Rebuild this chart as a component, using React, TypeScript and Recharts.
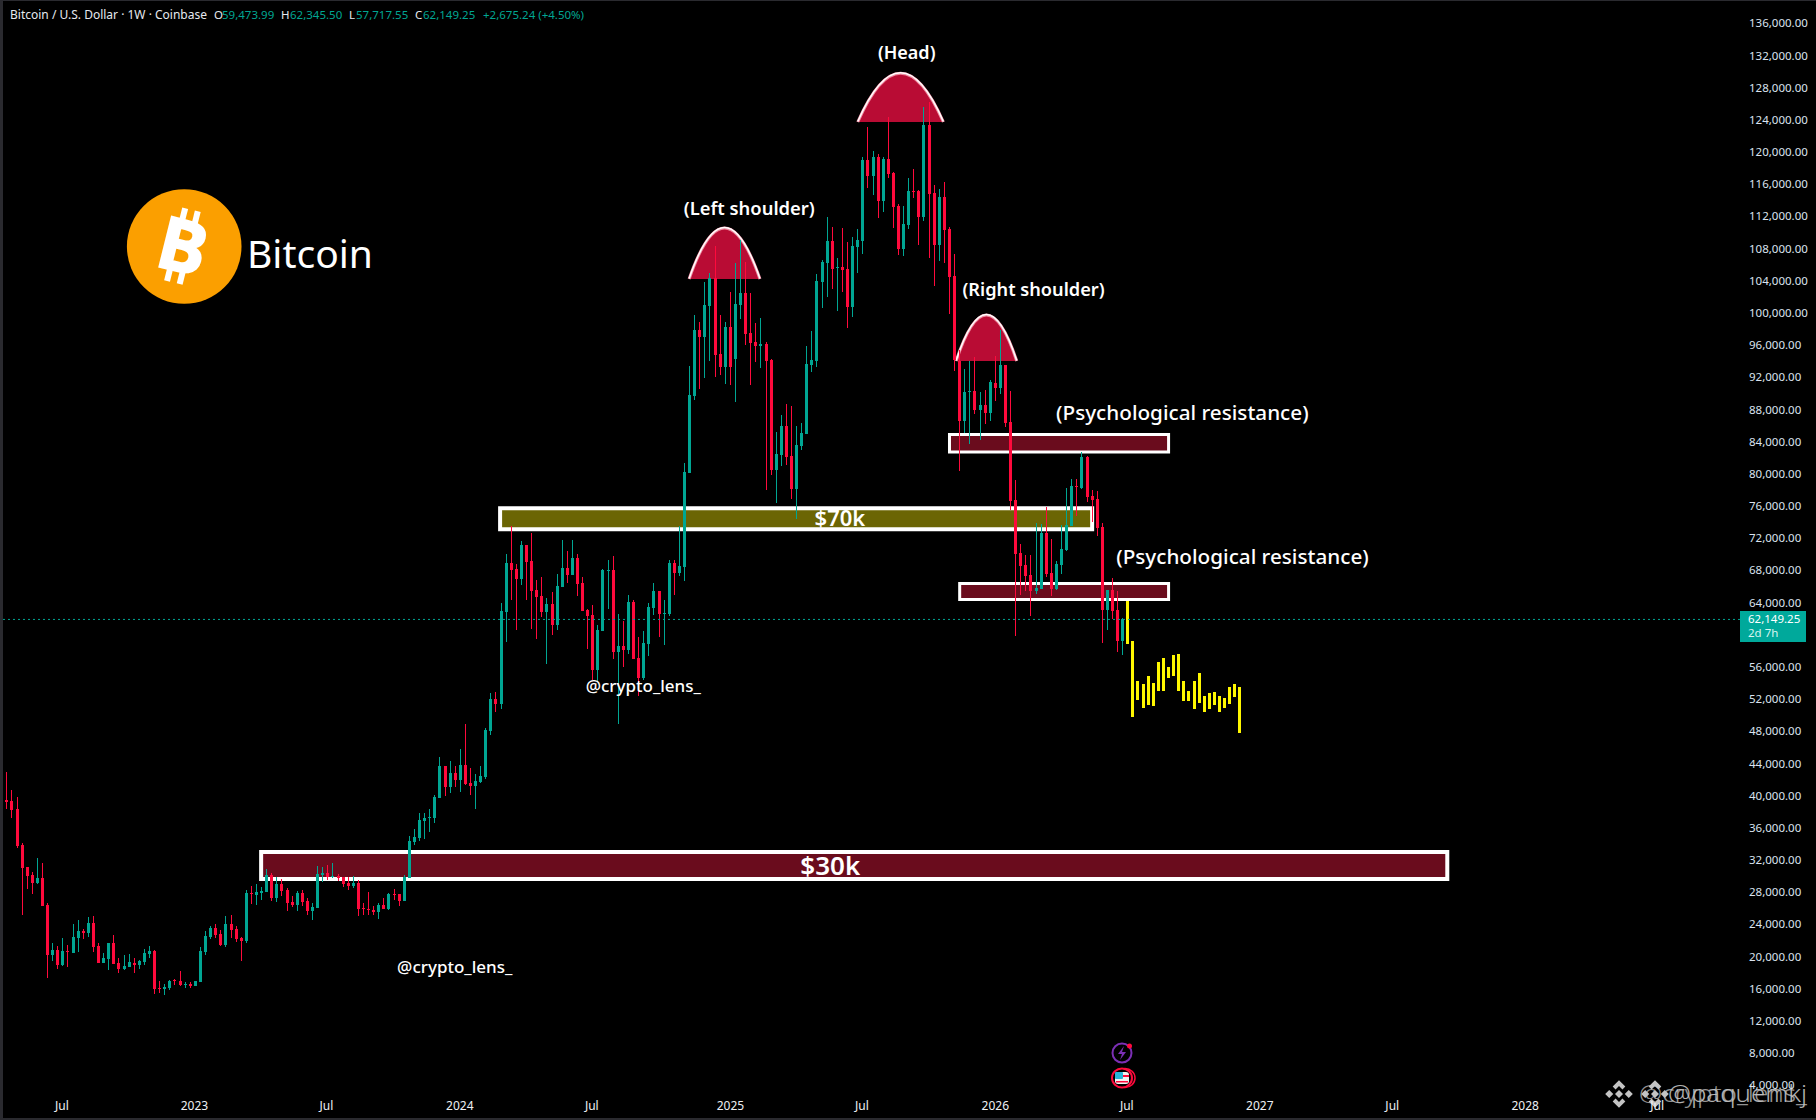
import React from 'react';
import { ComposedChart, Bar, XAxis, YAxis, ReferenceArea, ReferenceDot, ReferenceLine } from 'recharts';

// weekly BTC/USD candles, oldest first
const opens = [
  41942,39705,39581,38587,34112,31378,30384,29389,30011,26655,
  20440,21062,19198,20937,20689,22553,23423,23175,24418,21559,
  19446,19943,21932,19446,18700,18949,19446,19198,19570,20565,
  20937,16339,16214,16339,17333,17209,16712,16836,16588,17085,
  20813,22677,23796,23050,21683,24293,23672,22553,22180,28146,
  27898,28146,28270,30384,27525,29265,28519,27028,26655,28146,
  27152,25909,26282,30384,30633,30135,30260,30135,29389,29017,
  29389,26282,26158,26034,25785,26655,26158,28022,28022,27152,
  30011,34485,34983,37096,37468,37468,39954,43931,41321,43061,
  42191,44057,41820,41447,41944,42566,48283,52260,51639,63075,
  69165,68419,67176,71402,69414,65809,65063,63075,64069,61459,
  66182,68544,67673,69786,66679,63323,62702,55866,60713,68171,
  68295,58103,58849,58352,64318,57357,54872,59098,63572,65685,
  62826,62826,69165,67922,68673,80355,89925,98129,97258,101112,
  104592,95146,93531,98502,94525,101236,102728,97756,96637,96140,
  96389,94400,80728,82592,86197,82469,78366,83711,85203,93779,
  94276,104095,106456,109191,105835,105959,105710,100987,108445,109191,
  119258,117269,119631,114162,119383,117642,113541,108197,111179,115405,
  115405,112174,123609,115157,108693,114660,110683,104840,94276,86819,
  90423,90547,88186,88807,87813,91542,90920,93779,86692,76997,
  70410,68918,67675,65686,65935,72895,67924,65935,68918,70783,
  73766,78737,78488,82342,77494,77121,73641,63325,65811,63325,59474,
];
const highs = [
  42191,43186,40948,40078,34361,31378,30756,32497,31875,26904,
  21932,21559,22553,21683,24293,24791,23672,25164,25287,21932,
  20689,21932,22926,20067,20440,20565,20067,19819,21186,21559,
  21062,17209,16836,17333,17457,18452,17085,17085,17209,21434,
  23423,24045,24293,23548,25287,25412,24045,22677,28519,29016,
  29265,28892,31129,30632,30135,29887,28768,27773,28395,28520,
  27525,26904,31502,31378,31627,31875,30508,30135,30135,30260,
  29762,26904,28271,26531,26904,27525,28146,28644,28022,30384,
  35231,36101,38090,38090,38587,40327,45050,43931,44553,43931,
  46044,49153,43684,42938,43933,48656,53006,53130,64192,70283,
  73764,69041,71899,71402,72894,67052,67425,64815,65561,67798,
  72024,70656,72024,70283,67425,63448,63945,61459,68419,69538,
  70035,62826,61956,65188,64566,59967,60713,64193,66679,65685,
  64566,69538,69538,73764,81557,93654,99993,99123,104095,105172,
  108569,99993,99123,102852,106456,109315,106581,102728,99000,99621,
  96637,94525,85451,87565,88931,88683,86197,86570,96140,98005,
  105089,106829,112174,110931,107078,110806,109066,109688,110682,119631,
  123360,120377,120004,119631,124603,117767,113789,113541,117021,118140,
  115530,125846,126467,116151,115654,116524,110931,107575,95643,93282,
  94276,94773,90423,90672,91914,94897,98129,93779,90545,79483,
  71528,70161,70161,74138,74014,76127,72150,69415,73890,78488,
  79607,79607,82963,82466,78240,78116,74138,65811,67302,65686,62345,
];
const lows = [
  39581,38587,37468,33740,25412,28644,28022,29265,26531,17582,
  19695,18700,19074,18949,20689,20813,22429,22677,20813,19446,
  19446,18576,19322,18203,18576,18949,18203,18700,19198,20067,
  15593,15717,15469,16090,16712,16588,16339,16339,16588,17085,
  20440,22429,22553,21559,21434,22553,22056,19695,21932,26779,
  26655,27276,28270,27152,27028,27773,25909,26406,25909,26531,
  25412,24791,26282,29514,29762,30011,29638,28893,28520,28768,
  25288,25412,25412,25412,24915,26158,26034,27277,26531,27152,
  30011,34113,34610,34858,35728,36847,39954,40203,40576,41321,
  40700,41571,40329,38588,41820,42317,47786,50645,51017,59346,
  64566,60837,66431,64566,60962,59719,62453,56611,60216,60837,
  66182,66679,67673,65063,63199,58476,54623,54375,60713,63448,
  57233,49154,56239,57854,57233,52634,54623,57606,62702,59967,
  58973,62577,65188,67549,66932,80355,89429,90795,92164,94276,
  92287,92536,91418,91293,89180,99496,96265,91293,94152,93405,
  78243,80108,76627,81225,81350,77123,74639,83214,85203,92909,
  93531,100863,102230,103225,100491,102852,98378,99745,105213,107575,
  115778,114908,112049,112795,117021,110806,107451,107326,110682,114535,
  108693,111677,107078,103598,106705,106456,100118,93033,80604,85327,
  83960,87689,84456,86446,86819,89305,90175,86073,75754,60093,
  65190,65686,62579,65314,65935,67427,65065,65811,67800,70658,
  73766,75008,78364,76749,74263,72523,59224,60839,62207,58105,57718,
];
const closes = [
  39705,39457,38462,33947,31254,30259,29389,30011,26531,20440,
  21062,19198,20937,20813,22677,23423,23175,24418,21434,19446,
  20067,21932,19322,18700,19074,19570,19198,19695,20689,20937,
  16214,16214,16463,17209,17209,16712,16836,16588,17209,20937,
  22802,23796,22926,21683,24293,23548,22429,22180,28146,28022,
  28270,28395,30384,27525,29265,28395,26904,26655,28146,27028,
  25909,26406,30508,30633,30135,30260,30011,29265,29017,29389,
  26158,26158,26034,25785,26655,26158,28022,27898,27152,30135,
  34610,35107,37220,37468,37593,40078,43931,41321,43061,42191,
  44056,41696,41447,42068,42690,48407,52260,51639,63198,69165,
  68295,67176,71402,69289,65685,64939,63075,64069,61459,66306,
  68544,67673,69786,66555,63199,62577,55866,60837,68295,68295,
  58103,58849,58352,64318,57233,54872,59222,63696,65685,62826,
  62950,69165,67922,68792,80479,90050,98129,97258,101236,104592,
  95022,93531,98502,93531,101361,102728,97632,96513,96140,96389,
  94276,80728,82716,86197,82345,78366,83836,85327,93903,94400,
  104219,106580,109191,105710,105959,105586,100987,108569,109315,119258,
  117269,119631,114162,119383,117518,113417,108197,111304,115405,115281,
  112174,123609,115032,108693,114660,110558,104716,94400,86819,90423,
  90547,88186,88807,87813,91666,90920,93779,86570,76873,70285,
  68794,67551,65686,66059,72895,67800,65935,69042,70907,73890,
  78737,78613,82342,77370,76997,73517,63325,65811,63201,59472,62149,
];

// the yellow projected path after the last real candle
const projectionHighs = [64444,59472,54500,54127,55122,54253,56862,57358,56242,57732,57856,54500,53257,54500,55495,52636,53009,53133,52636,52387,53755,54127,53755];
const projectionLows = [59099,50026,52139,51144,51518,51393,53257,53257,54873,55122,53257,52015,52015,51020,51766,50648,51020,51518,50648,51144,51642,52512,48038];

const priceTicks = [4000,8000,12000,16000,20000,24000,28000,32000,36000,40000,44000,48000,52000,56000,64000,68000,72000,76000,80000,84000,88000,92000,96000,100000,104000,108000,112000,116000,120000,124000,128000,132000,136000];
const timeTicks = [11.8,37.8,63.7,89.9,115.8,143,168.8,195,220.8,246.9,272.9,299,324.9];
const timeLabels = ['Jul','2023','Jul','2024','Jul','2025','Jul','2026','Jul','2027','Jul','2028','Jul'];

const FONT = '"Noto Sans", sans-serif';
const UP = '#00a693';
const DOWN = '#ff0a3c';
const PROJECTED = '#fff700';
const lastPrice = 62149.25;

const rows = [
  ...opens.map((open, i) => ({ week: i, open, close: closes[i], low: lows[i], high: highs[i], range: [lows[i], highs[i]] })),
  ...projectionHighs.map((high, i) => ({ week: opens.length + i, projected: true, open: high, close: projectionLows[i], low: projectionLows[i], high, range: [projectionLows[i], high] })),
];

const Candle = (props: any) => {
  const { x, y, width, height, payload } = props;
  if (!payload) return null;
  const { open, close, high, low, projected } = payload;
  const toY = (v: number) => y + ((high - v) / (high - low)) * height;
  const left = Math.round(x + width / 2 - 1.5);
  const top = toY(Math.max(open, close));
  const bottom = toY(Math.min(open, close));
  const colour = projected ? PROJECTED : close >= open ? UP : DOWN;
  return (
    <g shapeRendering="crispEdges">
      <rect x={left + 1} y={y} width={1} height={height} fill={colour} />
      <rect x={left} y={top} width={3} height={Math.max(bottom - top, 1)} fill={colour} />
    </g>
  );
};

const Dome = (props: any) => {
  const { x, y, width, height } = props;
  const base = y + height;
  const curve = `M${x} ${base} Q${x + width / 2} ${base - 2 * height} ${x + width} ${base}`;
  return (
    <g>
      <path d={`${curve} Z`} fill="#b90c34" />
      <path d={curve} fill="none" stroke="#f08aa0" strokeWidth={3} />
      <path d={curve} fill="none" stroke="#ffffff" strokeWidth={1.5} transform="translate(0 -0.5)" />
    </g>
  );
};

const note = (value: string, fontSize: number, fontWeight = 500) => ({ value, fill: '#ffffff', fontSize, fontFamily: FONT, fontWeight, position: 'center' as const });

const Logo = () => (
  <g>
    <circle cx={184.2} cy={246.5} r={57.3} fill="#fb9f00" />
    <g transform="rotate(14 184 246)" fill="#ffffff" stroke="#ffffff">
      <text x={183} y={272} textAnchor="middle" fontSize={72} fontWeight={700} fontFamily={FONT} strokeWidth={2}>B</text>
      <rect x={173} y={209} width={6} height={14} strokeWidth={0} />
      <rect x={186} y={209} width={6} height={14} strokeWidth={0} />
      <rect x={173} y={270} width={6} height={14} strokeWidth={0} />
      <rect x={186} y={270} width={6} height={14} strokeWidth={0} />
    </g>
    <text x={247} y={268} fontSize={39} fontFamily={FONT} fill="#ffffff">Bitcoin</text>
  </g>
);

const Header = () => {
  const grey = '#e6e9ef';
  const t = { fontSize: 11.5, fontFamily: FONT, y: 19 };
  return (
    <g>
      <text {...t} fontSize={12} x={10} fill={grey}>Bitcoin / U.S. Dollar · 1W · Coinbase</text>
      <text {...t} x={214} fill={grey}>O</text>
      <text {...t} x={222} fill={UP}>59,473.99</text>
      <text {...t} x={281} fill={grey}>H</text>
      <text {...t} x={290} fill={UP}>62,345.50</text>
      <text {...t} x={349} fill={grey}>L</text>
      <text {...t} x={356} fill={UP}>57,717.55</text>
      <text {...t} x={415} fill={grey}>C</text>
      <text {...t} x={423} fill={UP}>62,149.25</text>
      <text {...t} x={483} fill={UP}>+2,675.24 (+4.50%)</text>
    </g>
  );
};

const PriceBadge = () => (
  <g fontFamily={FONT} fontSize={11.5}>
    <rect x={1740} y={611} width={66} height={31} fill="#00a99b" />
    <text x={1748} y={623} fill="#ffffff">62,149.25</text>
    <text x={1748} y={637} fill="#d8f5f0">2d 7h</text>
  </g>
);

const EventIcons = () => (
  <g>
    <circle cx={1122} cy={1053} r={9.5} fill="#000" stroke="#7b2fb5" strokeWidth={2} />
    <path d="M1124 1046 L1118 1054 L1122 1054 L1120 1060 L1126 1052 L1122 1052 Z" fill="#7b2fb5" />
    <circle cx={1129.5} cy={1046} r={2.5} fill={DOWN} />
    <ellipse cx={1125} cy={1078} rx={10} ry={9.5} fill="none" stroke={DOWN} strokeWidth={1.5} />
    <ellipse cx={1122} cy={1078} rx={10} ry={9.5} fill="#000" stroke={DOWN} strokeWidth={2} />
    <rect x={1115} y={1072} width={14} height={12} rx={3} fill="#f3f3f3" />
    <rect x={1115} y={1072} width={8} height={7} rx={1} fill="#29b6d8" />
    <rect x={1123} y={1075} width={6} height={2} fill={DOWN} />
    <rect x={1116} y={1081} width={12} height={1.5} fill={DOWN} />
  </g>
);

const Diamond = ({ cx, cy }: { cx: number; cy: number }) => (
  <g fill="#c4c4c4" transform={`translate(${cx} ${cy}) scale(1.15)`}>
    <path d="M0 -12 L5.5 -6.5 L3 -4 L0 -7 L-3 -4 L-5.5 -6.5 Z" />
    <path d="M0 12 L5.5 6.5 L3 4 L0 7 L-3 4 L-5.5 6.5 Z" />
    <path d="M-12 0 L-8.5 -3.5 L-5 0 L-8.5 3.5 Z" />
    <path d="M12 0 L8.5 -3.5 L5 0 L8.5 3.5 Z" />
    <path d="M0 -3.5 L3.5 0 L0 3.5 L-3.5 0 Z" />
  </g>
);

const Watermark = () => (
  <g fontFamily={FONT} fill="#c4c4c4" fontSize={24} fontWeight={300}>
    <Diamond cx={1619} cy={1094} />
    <Diamond cx={1655} cy={1094} />
    <text x={1639} y={1102} textLength={168} lengthAdjust="spacingAndGlyphs" opacity={0.75}>@crypto_lens_</text>
    <text x={1668} y={1102} textLength={139} lengthAdjust="spacingAndGlyphs" opacity={0.9}>@paquemkj</text>
  </g>
);

const App = () => (
  <div style={{ position: 'fixed', left: 0, top: 0, width: 1816, height: 1120, background: '#000', overflow: 'hidden' }}>
    <ComposedChart
      width={1816}
      height={1120}
      data={rows}
      margin={{ top: 2, right: 0, bottom: 0, left: 0 }}
    >
      <XAxis
        dataKey="week"
        type="number"
        domain={[-0.353, 341.15]}
        allowDataOverflow
        ticks={timeTicks}
        tickFormatter={(v: number) => timeLabels[timeTicks.indexOf(v)]}
        axisLine={false}
        tickLine={false}
        height={28}
        tickMargin={3}
        interval={0}
        tick={{ fill: '#eef0f4', fontSize: 12, fontFamily: FONT }}
      />
      <YAxis
        orientation="right"
        type="number"
        domain={[3409, 138896]}
        allowDataOverflow
        ticks={priceTicks}
        tickFormatter={(v: number) => v.toLocaleString('en-US', { minimumFractionDigits: 2, maximumFractionDigits: 2 })}
        axisLine={false}
        tickLine={false}
        width={76}
        tickMargin={3}
        interval={0}
        tick={{ fill: '#dbe3ef', fontSize: 11.5, fontFamily: FONT, dy: -2 }}
      />

      <ReferenceArea x1={97.8} x2={214} y1={73371} y2={75981} fill="#6b6504" fillOpacity={1} stroke="#ffffff" strokeWidth={4} />
      <ReferenceArea x1={50.9} x2={283.7} y1={29885} y2={33241} fill="#6a0c1d" fillOpacity={1} stroke="#ffffff" strokeWidth={4} />
      <ReferenceArea x1={186} x2={229} y1={82962} y2={85137} fill="#6a0c1d" fillOpacity={1} stroke="#ffffff" strokeWidth={3} />
      <ReferenceArea x1={188} x2={229} y1={64626} y2={66615} fill="#6a0c1d" fillOpacity={1} stroke="#ffffff" strokeWidth={3} />
      <ReferenceArea x1={134.9} x2={148.8} y1={104465} y2={110800} shape={Dome} />
      <ReferenceArea x1={168} x2={184.8} y1={123980} y2={130050} shape={Dome} />
      <ReferenceArea x1={187.3} x2={199.2} y1={94272} y2={100000} shape={Dome} />
      <ReferenceLine y={lastPrice} stroke={UP} strokeDasharray="2 3" />

      <Bar dataKey="range" barSize={3} shape={Candle} isAnimationActive={false} />

      <ReferenceDot x={164.5} y={74760} r={0} label={note('$70k', 22, 600)} />
      <ReferenceDot x={162.6} y={31500} r={0} label={note('$30k', 26, 600)} />
      <ReferenceDot x={177.6} y={132607} r={0} label={note('(Head)', 18, 600)} />
      <ReferenceDot x={146.7} y={113290} r={0} label={note('(Left shoulder)', 18.4, 600)} />
      <ReferenceDot x={202.5} y={103098} r={0} label={note('(Right shoulder)', 18.2, 600)} />
      <ReferenceDot x={231.7} y={87809} r={0} label={note('(Psychological resistance)', 20.7)} />
      <ReferenceDot x={243.5} y={69910} r={0} label={note('(Psychological resistance)', 20.7)} />
      <ReferenceDot x={125.9} y={53875} r={0} label={note('@crypto_lens_', 17)} />
      <ReferenceDot x={88.9} y={18947} r={0} label={note('@crypto_lens_', 17)} />

      <Logo />
      <Header />
      <PriceBadge />
      <EventIcons />
      <Watermark />
    </ComposedChart>
    {/* panel frame */}
    <div style={{ position: 'absolute', inset: 0, boxSizing: 'border-box', borderLeft: '3px solid #2a2a2f', borderTop: '1px solid #2a2a2f', borderBottom: '2px solid #2a2a2f', pointerEvents: 'none' }} />
  </div>
);

export default App;
